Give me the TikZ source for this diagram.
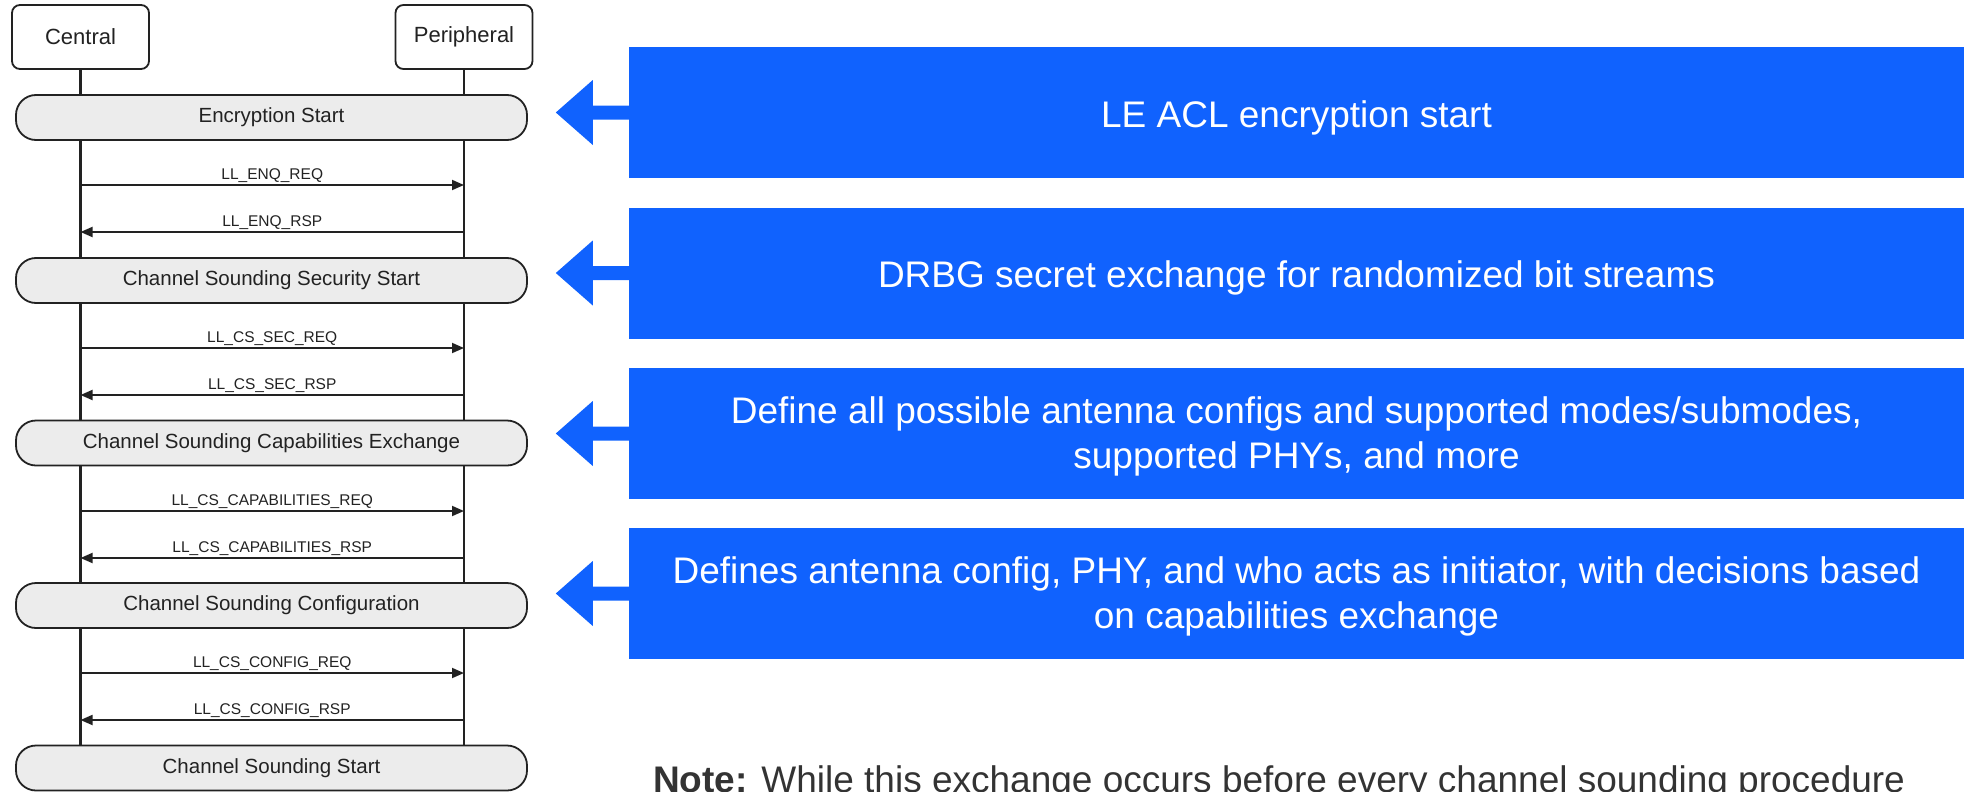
\documentclass[tikz,border=0pt]{standalone}
\usepackage{fontspec}
\setmainfont{Liberation Sans}
\usetikzlibrary{arrows.meta}
\definecolor{bleu}{RGB}{16,98,254}
\definecolor{ink}{RGB}{34,34,34}
\definecolor{notegray}{RGB}{51,51,51}
\definecolor{pale}{RGB}{236,236,236}
\begin{document}
\begin{tikzpicture}[x=1pt,y=-1pt,
 headbox/.style={draw=ink, line width=1.8pt, fill=white, rounded corners=8pt, minimum width=137pt, minimum height=64pt, inner sep=0pt, font=\fontsize{22}{26}\selectfont, text=ink},
 phasebox/.style={draw=ink, line width=1.8pt, fill=pale, rounded corners=20pt, minimum width=511pt, minimum height=45pt, inner sep=0pt, font=\fontsize{20.5}{24}\selectfont, text=ink},
 lifeline/.style={draw=ink, line width=2.4pt},
 msg/.style={draw=ink, line width=1.8pt, -{Triangle[length=12pt,width=10pt]}},
 msglabel/.style={anchor=base, yshift=6pt, inner sep=0pt, font=\fontsize{15.5}{18}\selectfont, text=ink},
 infobox/.style={fill=bleu, minimum width=1335pt, minimum height=131pt, inner sep=0pt},
 infotext/.style={inner sep=0pt, align=center, text=white, font=\fontsize{37}{45}\selectfont},
 pointer/.style={fill=bleu}]
\useasboundingbox (0,0) rectangle (1964,792);

% lifeline heads
\node[headbox] (central) at (80.5,37) {Central};
\node[headbox] (periph) at (464,37) {Peripheral};
\coordinate (cend) at (80.5,760);
\coordinate (pend) at (464,760);
\draw[lifeline] (central.south) -- (cend);
\draw[lifeline] (periph.south) -- (pend);

% phase boxes
\node[phasebox] (enc) at (271.5,117.5) {Encryption Start};
\node[phasebox] (sec) at (271.5,280.5) {Channel Sounding Security Start};
\node[phasebox] (cap) at (271.5,443) {Channel Sounding Capabilities Exchange};
\node[phasebox] (cfg) at (271.5,605.5) {Channel Sounding Configuration};
\node[phasebox] (start) at (271.5,768) {Channel Sounding Start};

% messages
\foreach \n/\y in {a/185,b/232,c/348,d/395,e/511,f/558,g/673,h/720}{
  \coordinate (c\n) at (80.5,\y);
  \coordinate (p\n) at (464,\y);
}
\draw[msg] (ca) -- node[msglabel] {LL\_ENQ\_REQ} (pa);
\draw[msg] (pb) -- node[msglabel] {LL\_ENQ\_RSP} (cb);
\draw[msg] (cc) -- node[msglabel] {LL\_CS\_SEC\_REQ} (pc);
\draw[msg] (pd) -- node[msglabel] {LL\_CS\_SEC\_RSP} (cd);
\draw[msg] (ce) -- node[msglabel] {LL\_CS\_CAPABILITIES\_REQ} (pe);
\draw[msg] (pf) -- node[msglabel] {LL\_CS\_CAPABILITIES\_RSP} (cf);
\draw[msg] (cg) -- node[msglabel] {LL\_CS\_CONFIG\_REQ} (pg);
\draw[msg] (ph) -- node[msglabel] {LL\_CS\_CONFIG\_RSP} (ch);

% info boxes
\node[infobox] (b1) at (1296.5,112.5) {};
\node[infobox] (b2) at (1296.5,273) {};
\node[infobox] (b3) at (1296.5,433.5) {};
\node[infobox] (b4) at (1296.5,593.5) {};
\node[infotext] (t1) at ([yshift=-5pt]b1.center) {LE ACL encryption start};
\node[infotext] (t2) at ([yshift=-5pt]b2.center) {DRBG secret exchange for randomized bit streams};
\node[infotext] (t3) at ([yshift=-3pt]b3.center) {Define all possible antenna configs and supported modes/submodes,\\supported PHYs, and more};
\node[infotext] (t4) at ([yshift=-3pt]b4.center) {Defines antenna config, PHY, and who acts as initiator, with decisions based\\on capabilities exchange};

\foreach \b in {b1,b2,b3,b4}{
  \fill[pointer] ([yshift=-7pt]\b.west) -- ++(-36,0) -- ++(0,25.5) -- ++(-37,-32.5) -- ++(37,-32.5) -- ++(0,25.5) -- ++(36,0) -- cycle;
}

% note
\node[anchor=base west, inner sep=0pt, font=\fontsize{37}{43}\selectfont, text=notegray] (note) at (653,792) {\textbf{Note:} While this exchange occurs before every channel sounding procedure};
\end{tikzpicture}
\end{document}
